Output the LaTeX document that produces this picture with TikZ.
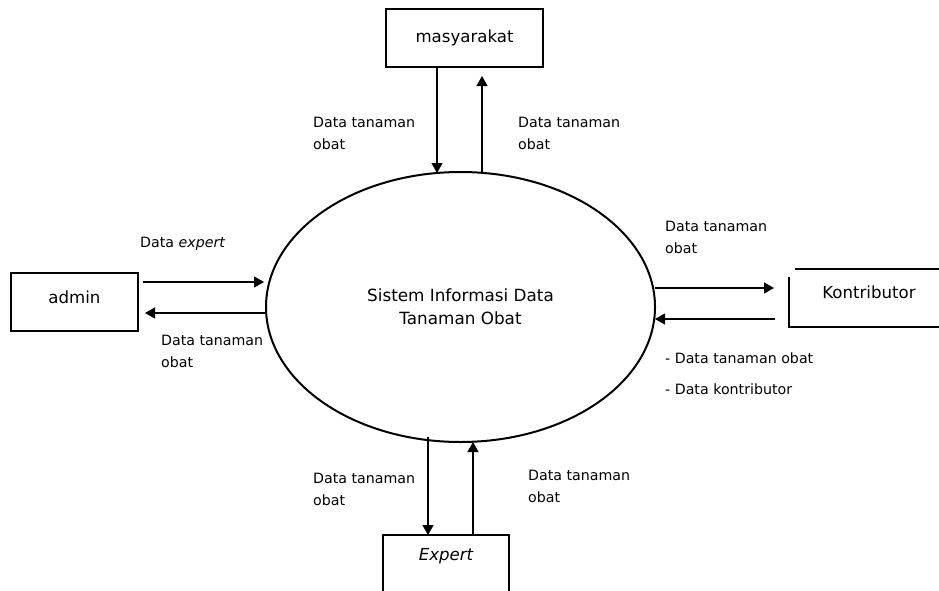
\documentclass[tikz,border=0pt]{standalone}
\usepackage{fontspec}
\setmainfont{DejaVu Sans}
\usetikzlibrary{arrows.meta,shapes.geometric}
\begin{document}
\begin{tikzpicture}[x=1pt,y=-1pt,
  entity/.style={draw,line width=2pt,inner sep=0pt},
  flow/.style={line width=1.2pt,-{Triangle[length=10pt,width=11pt]}},
  lbl/.style={anchor=base west,align=left,inner sep=0pt,font=\fontsize{14.2}{21.5}\selectfont},
  ename/.style={inner sep=0pt,font=\fontsize{16.6}{20}\selectfont}]
\useasboundingbox (0,0) rectangle (939,590);
\fill[white] (0,0) rectangle (939,590);

% central process
\node[ellipse,draw,line width=2pt,minimum width=389pt,minimum height=270pt,inner sep=0pt,
  align=center,font=\fontsize{16.8}{23}\selectfont] (sys) at (460.5,307)
  {Sistem Informasi Data\\Tanaman Obat};

% external entities
\node[entity,minimum width=157pt,minimum height=58pt] (mas) at (464.5,38) {};
\node[ename] at (mas) {masyarakat};
\node[entity,minimum width=127pt,minimum height=58pt] (adm) at (74.5,302) {};
\node[ename] at (74.5,297) {admin};
\node[ename] (kon) at (869,292) {Kontributor};
\draw[line width=2pt] (795,269) -- (939,269);
\draw[line width=2pt] (789,277) -- (789,327) -- (939,327);
\draw[line width=2pt] (383,596) -- (383,535) -- (509,535) -- (509,596);
\node[ename,font=\fontsize{16.6}{20}\selectfont\itshape] (exp) at (446,556) {Expert};

% connector end points
\coordinate (m1) at (437,68);
\coordinate (s1) at (437,173);
\coordinate (s2) at (482,172);
\coordinate (m2) at (482,76);
\coordinate (a1) at (143,282);
\coordinate (s3) at (264,282);
\coordinate (s4) at (266,313);
\coordinate (a2) at (145,313);
\coordinate (s5) at (655,288);
\coordinate (k1) at (774,288);
\coordinate (k2) at (775,319);
\coordinate (s6) at (655,319);
\coordinate (s7) at (428,437);
\coordinate (e1) at (428,535);
\coordinate (e2) at (473,535);
\coordinate (s8) at (473,442);

\draw[flow] (m1) -- (s1);
\draw[flow] (s2) -- (m2);
\draw[flow] (a1) -- (s3);
\draw[flow] (s4) -- (a2);
\draw[flow] (s5) -- (k1);
\draw[flow] (k2) -- (s6);
\draw[flow] (s7) -- (e1);
\draw[flow] (e2) -- (s8);

% flow labels (base anchor sits on the last line)
\node[lbl] at (313,149) {Data tanaman\\obat};
\node[lbl] at (518,149) {Data tanaman\\obat};
\node[lbl] at (140,247) {Data \textit{expert}};
\node[lbl] at (161,367) {Data tanaman\\obat};
\node[lbl] at (665,253) {Data tanaman\\obat};
\node[lbl] at (665,363) {- Data tanaman obat};
\node[lbl] at (665,394) {- Data kontributor};
\node[lbl] at (313,505) {Data tanaman\\obat};
\node[lbl] at (528,502) {Data tanaman\\obat};
\end{tikzpicture}
\end{document}
